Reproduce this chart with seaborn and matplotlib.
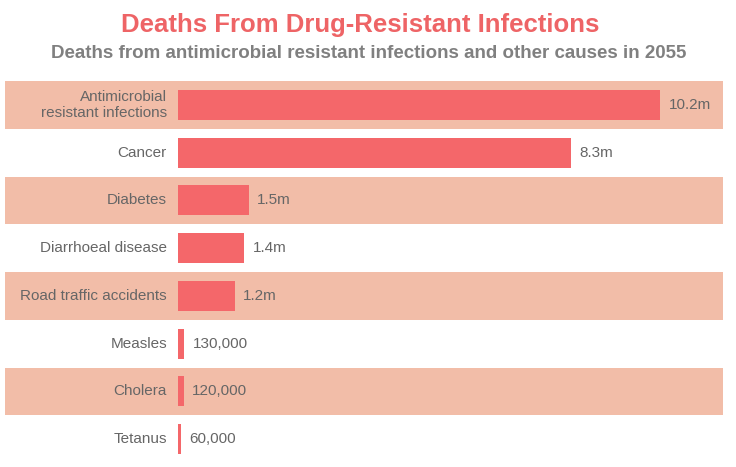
import matplotlib
matplotlib.use('Agg')
import matplotlib.pyplot as plt
import seaborn as sns
import pandas as pd

# dados
causas = ['Antimicrobial\nresistant infections', 'Cancer', 'Diabetes', 'Diarrhoeal disease',
          'Road traffic accidents', 'Measles', 'Cholera', 'Tetanus']
mortes = [10200000, 8300000, 1500000, 1400000, 1200000, 130000, 120000, 60000]

cor_barra = '#F4676A'
cor_faixa = '#F2BDA8'
cor_texto = '#666666'

sns.set_theme(style='white')
plt.rcParams['font.family'] = ['Liberation Sans', 'DejaVu Sans']

df = pd.DataFrame({'Causa': causas, 'Mortes': mortes})

W, H = 736, 467
fig = plt.figure(figsize=(W / 100, H / 100), dpi=100)
ax = fig.add_axes([5 / W, 1 - 463 / H, 718 / W, 382 / H])

# faixas alternadas
for i in range(0, len(causas), 2):
    ax.axhspan(i - 0.5, i + 0.5, color=cor_faixa, lw=0, zorder=0)

sns.barplot(data=df, y='Causa', x='Mortes', orient='h', color=cor_barra,
            width=0.63, saturation=1, linewidth=0, ax=ax, zorder=2)

ax.set_xlim(-173 / 47.3 * 1e6, (718 - 173) / 47.3 * 1e6)
ax.set_ylim(len(causas) - 0.5, -0.5)

for i, (c, v) in enumerate(zip(causas, mortes)):
    rot = f'{v / 1e6:.1f}m' if v >= 1e6 else f'{v:,}'
    ax.annotate(rot, (v, i), xytext=(6, 0), textcoords='offset points',
                va='center', ha='left', fontsize=11, color=cor_texto)
    ax.annotate(c, (0, i), xytext=(-8, 0), textcoords='offset points',
                va='center', ha='right', fontsize=11, color=cor_texto,
                multialignment='right', linespacing=1.15)

ax.set_xticks([])
ax.set_yticks([])
ax.set_xlabel('')
ax.set_ylabel('')
for s in ax.spines.values():
    s.set_visible(False)

fig.text(360 / W, 1 - 25 / H, 'Deaths From Drug-Resistant Infections', ha='center', va='center',
         fontsize=18.5, fontweight='bold', color='#EE6466')
fig.text(369 / W, 1 - 53 / H, 'Deaths from antimicrobial resistant infections and other causes in 2055',
         ha='center', va='center', fontsize=13.5, fontweight='bold', color='#808080')

fig.savefig('out.png', dpi=100)
